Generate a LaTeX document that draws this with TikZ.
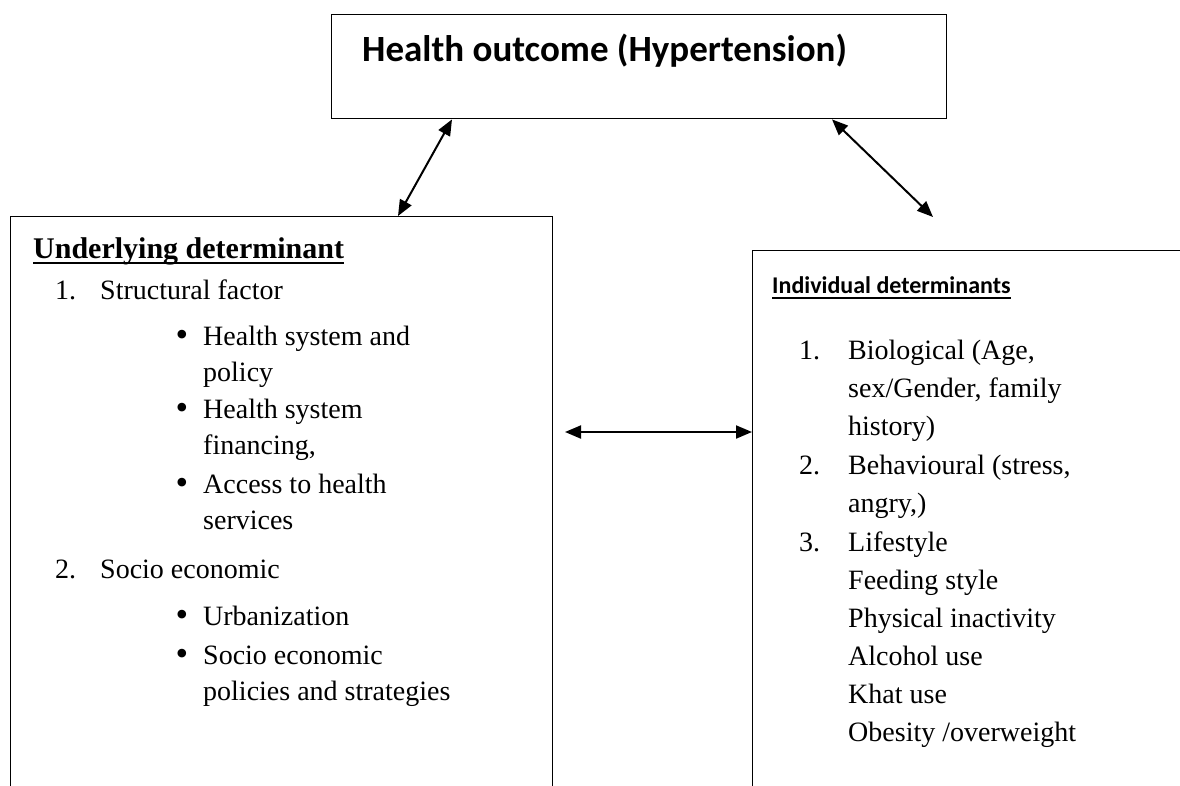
\documentclass[tikz,border=0pt]{standalone}
\usepackage{fontspec}
\setmainfont{Liberation Serif}
\newfontfamily\calibri{Carlito}
\usetikzlibrary{arrows.meta,positioning,calc}
% underline with a visible rule
\newcommand\hdrline[1]{\setbox0\hbox{#1}\rlap{\rule[-6pt]{\wd0}{2.2pt}}\box0}
% larger bullet, hung to the left of the text
\newcommand\dotmark{\llap{\raisebox{-1.5pt}{\fontsize{36}{36}\selectfont\textbullet}\hspace{15pt}}}

\begin{document}
\begin{tikzpicture}[x=1pt, y=-1pt,
    frame/.style={draw, line width=1.4pt, inner sep=0pt},
    link/.style={{Triangle[length=16pt,width=13pt]}-{Triangle[length=16pt,width=13pt]}, line width=2pt},
    entry/.style={anchor=north west, inner sep=0pt, align=left, font=\fontsize{28}{36}\selectfont},
    rentry/.style={entry, font=\fontsize{28}{38}\selectfont}]
  \clip (0,0) rectangle (1180,785);
  \fill[white] (0,0) rectangle (1180,785);
  % boxes
  \node[frame, anchor=north west, minimum width=615pt, minimum height=104pt] (outcome) at (331,14) {};
  \node[frame, anchor=north west, minimum width=542pt, minimum height=650pt] (under) at (10,216) {};
  \node[frame, anchor=north west, minimum width=500pt, minimum height=600pt] (indiv) at (752,250) {};
  % headings
  \node[anchor=base west, inner sep=0pt, font=\calibri\bfseries\fontsize{37}{44}\selectfont] (title) at (362,61) {Health outcome (Hypertension)};
  \node[anchor=base west, inner sep=0pt, font=\bfseries\fontsize{30}{36}\selectfont] (uhead) at (33,258) {\hdrline{Underlying determinant}};
  \node[anchor=base west, inner sep=0pt, font=\calibri\bfseries\fontsize{24}{30}\selectfont] (ihead) at (772,293) {\hdrline{Individual determinants}};
  % underlying determinant list
  \node[entry] (u1) at (100,274) {\strut\llap{1.\hspace{24pt}}Structural factor};
  \node[entry] (u1a) at (203,320) {\strut\dotmark Health system and\\policy};
  \node[entry] (u1b) at (203,393) {\strut\dotmark Health system\\financing,};
  \node[entry] (u1c) at (203,468) {\strut\dotmark Access to health\\services};
  \node[entry] (u2) at (100,553) {\strut\llap{2.\hspace{24pt}}Socio economic};
  \node[entry] (u2a) at (203,600) {\strut\dotmark Urbanization};
  \node[entry] (u2b) at (203,639) {\strut\dotmark Socio economic\\policies and strategies};
  % individual determinant list
  \node[rentry] (i1) at (848,333) {\strut\llap{1.\hspace{28pt}}Biological (Age,\\sex/Gender, family\\history)};
  \node[rentry] (i2) at (848,448) {\strut\llap{2.\hspace{28pt}}Behavioural (stress,\\angry,)};
  \node[rentry] (i3) at (848,525) {\strut\llap{3.\hspace{28pt}}Lifestyle\\Feeding style\\Physical inactivity\\Alcohol use\\Khat use\\Obesity /overweight};
  % connectors
  \coordinate (rtip) at (933,217);
  \coordinate (mtip) at (565,432);
  \draw[link] ([xshift=121pt]outcome.south west) -- ([xshift=388pt]under.north west);
  \draw[link] ([xshift=501pt]outcome.south west) -- (rtip);
  \draw[link] (mtip) -- (mtip -| indiv.west);
\end{tikzpicture}
\end{document}
